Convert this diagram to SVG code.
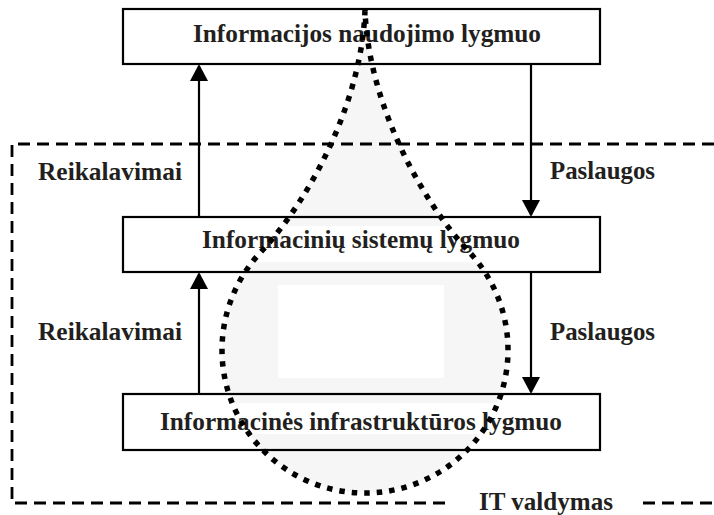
<svg xmlns="http://www.w3.org/2000/svg" width="714" height="515" viewBox="0 0 714 515">
<defs>
<style>
.box{fill:none;stroke:#000;stroke-width:2.2}
.lbl{font-family:"Liberation Serif","Times New Roman",serif;font-weight:bold;font-size:26px;fill:#231f20}
.conn{stroke:#000;stroke-width:2.2;fill:none}
.dash{stroke:#000;stroke-width:2.8;stroke-dasharray:12 7;fill:none}
.dropfill{fill:#f6f6f6;stroke:none}
.dropline{fill:none;stroke:#000;stroke-width:5.5;stroke-dasharray:5.5 7}
.tbg{fill:#fff}
</style>
<marker id="arr" viewBox="0 0 17 18" markerWidth="17" markerHeight="18" refX="15" refY="9" orient="auto" markerUnits="userSpaceOnUse">
<path d="M0,0 L17,9 L0,18 Z" fill="#000"/>
</marker>
<path id="dropShape" d="M365,10 C362,100 311.6,197.7 260.4,252.5 A143,143 0 1 0 469.6,252.5 C418.4,197.7 368,100 365,10 Z"/>
</defs>
<rect x="0" y="0" width="714" height="515" fill="#fff"/>
<g id="drop-fill"><use href="#dropShape" class="dropfill"/></g>
<g id="it-valdymas">
<path class="dash" d="M714,144 H12 V503 H452"/>
<path class="dash" d="M643,503 H714"/>
<text class="lbl" x="479" y="510" textLength="134" lengthAdjust="spacingAndGlyphs">IT valdymas</text>
</g>
<rect class="tbg" x="278" y="285" width="166" height="93"/>
<g id="lvl-naudojimo">
<rect class="box" x="123" y="9" width="477" height="55"/>
<rect class="tbg" x="193" y="17" width="348" height="31"/>
<text class="lbl" x="193" y="42" textLength="348" lengthAdjust="spacingAndGlyphs">Informacijos naudojimo lygmuo</text>
</g>
<g id="lvl-sistemu">
<rect class="box" x="123" y="217" width="477" height="55"/>
<rect class="tbg" x="202" y="226" width="318" height="36"/>
<text class="lbl" x="202" y="248" textLength="318" lengthAdjust="spacingAndGlyphs">Informacinių sistemų lygmuo</text>
</g>
<g id="lvl-infrastrukturos">
<rect class="box" x="123" y="394" width="477" height="56"/>
<rect class="tbg" x="160" y="403" width="402" height="31"/>
<text class="lbl" x="160" y="430" textLength="402" lengthAdjust="spacingAndGlyphs">Informacinės infrastruktūros lygmuo</text>
</g>
<g id="connectors">
<path class="conn" d="M199,217 V66" marker-end="url(#arr)"/>
<path class="conn" d="M531,64 V215" marker-end="url(#arr)"/>
<path class="conn" d="M199,394 V274" marker-end="url(#arr)"/>
<path class="conn" d="M531,272 V392" marker-end="url(#arr)"/>
<text class="lbl" x="38" y="180" textLength="144" lengthAdjust="spacingAndGlyphs">Reikalavimai</text>
<text class="lbl" x="550" y="179" textLength="105" lengthAdjust="spacingAndGlyphs">Paslaugos</text>
<text class="lbl" x="38" y="340" textLength="144" lengthAdjust="spacingAndGlyphs">Reikalavimai</text>
<text class="lbl" x="550" y="340" textLength="105" lengthAdjust="spacingAndGlyphs">Paslaugos</text>
</g>
<g id="drop-outline"><use href="#dropShape" class="dropline"/></g>
</svg>
